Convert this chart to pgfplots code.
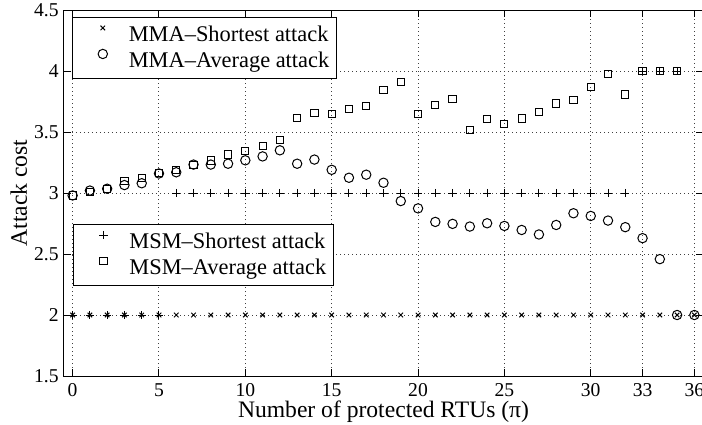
\documentclass[border=0pt]{standalone}
\usepackage{fontspec}
\setmainfont{Liberation Serif}
\usepackage{pgfplots}
\pgfplotsset{compat=1.18}
\pgfplotstableread{
x y
0 2
1 2
2 2
3 2
4 2
5 2
6 2
7 2
8 2
9 2
10 2
11 2
12 2
13 2
14 2
15 2
16 2
17 2
18 2
19 2
20 2
21 2
22 2
23 2
24 2
25 2
26 2
27 2
28 2
29 2
30 2
31 2
32 2
33 2
34 2
35 2
36 2
}\mmashort
\pgfplotstableread{
x y
0 2.98
1 3.02
2 3.035
3 3.065
4 3.08
5 3.16
6 3.17
7 3.233
8 3.233
9 3.24
10 3.268
11 3.30
12 3.35
13 3.24
14 3.274
15 3.19
16 3.125
17 3.15
18 3.084
19 2.934
20 2.874
21 2.763
22 2.747
23 2.725
24 2.752
25 2.73
26 2.697
27 2.66
28 2.738
29 2.834
30 2.812
31 2.774
32 2.72
33 2.63
34 2.458
35 2
36 2
}\mmaavg
\pgfplotstableread{
x y
0 2
1 2
2 2
3 2
4 2
5 2
6 3
7 3
8 3
9 3
10 3
11 3
12 3
13 3
14 3
15 3
16 3
17 3
18 3
19 3
20 3
21 3
22 3
23 3
24 3
25 3
26 3
27 3
28 3
29 3
30 3
31 3
32 3
33 4
34 4
35 4
}\msmshort
\pgfplotstableread{
x y
0 2.98
1 3.007
2 3.035
3 3.097
4 3.125
5 3.166
6 3.19
7 3.228
8 3.266
9 3.315
10 3.342
11 3.383
12 3.437
13 3.617
14 3.655
15 3.647
16 3.69
17 3.715
18 3.845
19 3.908
20 3.647
21 3.723
22 3.769
23 3.519
24 3.608
25 3.565
26 3.61
27 3.666
28 3.733
29 3.763
30 3.867
31 3.973
32 3.807
33 4
34 4
35 4
}\msmavg
\begin{document}
\begin{tikzpicture}
\pgfplotsset{
  base/.style={
    scale only axis, width=319.5pt, height=183pt,
    at={(0,0)}, anchor=south west,
    xmin=-0.5, xmax=36.5, ymin=1.5, ymax=4.5,
    legend cell align=left,
    legend style={draw=black, line width=0.5pt, fill=white,
      font=\fontsize{11.2pt}{13pt}\selectfont,
      inner xsep=0pt, inner ysep=2.25pt, row sep=0pt,
      nodes={inner xsep=1pt, inner ysep=0pt, text height=9.75pt, text depth=3.25pt}},
    legend image code/.code={%
      \path[draw=none,fill=none] (0pt,-2pt) rectangle (27pt,2pt);
      \draw[mark repeat=2,mark phase=2,#1] plot coordinates {(0pt,3.5pt)(15pt,3.5pt)(30pt,3.5pt)};},
  },
}
\begin{axis}[base,
  xtick={0,5,10,15,20,25,30,33,36},
  ytick={1.5,2,2.5,3,3.5,4,4.5},
  grid=major, grid style={dash pattern=on 0.5pt off 1.5pt, black!75, line width=0.5pt},
  tick align=inside, major tick length=3.5pt,
  tick style={black, line width=0.5pt},
  axis line style={line width=0.5pt},
  /pgf/number format/assume math mode=true,
  ticklabel style={font=\fontsize{9.8pt}{11pt}\selectfont},
  xticklabel style={anchor=base, yshift=-10.3pt},
  yticklabel style={anchor=east, inner xsep=0pt, xshift=-2.5pt},
  xlabel={Number of protected RTUs (π)},
  ylabel={Attack cost},
  label style={font=\fontsize{11.8pt}{13pt}\selectfont},
  xlabel style={at={(axis description cs:0.5,0)}, anchor=base, yshift=-20.5pt},
  ylabel style={at={([xshift=-18.5pt]axis description cs:0,0.5)}, anchor=base},
  legend style={at={(0.013,0.981)}, anchor=north west},
]
\addplot[only marks, mark=x, mark size=1.6pt, mark options={line width=0.5pt}] table {\mmashort};
\addplot[only marks, mark=o, mark size=2.35pt, mark options={line width=0.5pt}] table {\mmaavg};
\legend{MMA--Shortest attack\hspace*{2.5pt}, MMA--Average attack\hspace*{2.5pt}}
\end{axis}
\begin{axis}[base, hide axis,
  legend style={at={(0.014,0.415)}, anchor=north west},
]
\addplot[only marks, mark=+, mark size=2.1pt, mark options={line width=0.5pt}] table {\msmshort};
\addplot[only marks, mark=square, mark size=1.8pt, mark options={line width=0.5pt}] table {\msmavg};
\legend{MSM--Shortest attack\hspace*{2.5pt}, MSM--Average attack\hspace*{2.5pt}}
\end{axis}
\pgfresetboundingbox
\path (-32pt,-24pt) rectangle (319pt,188pt);
\end{tikzpicture}
\end{document}
